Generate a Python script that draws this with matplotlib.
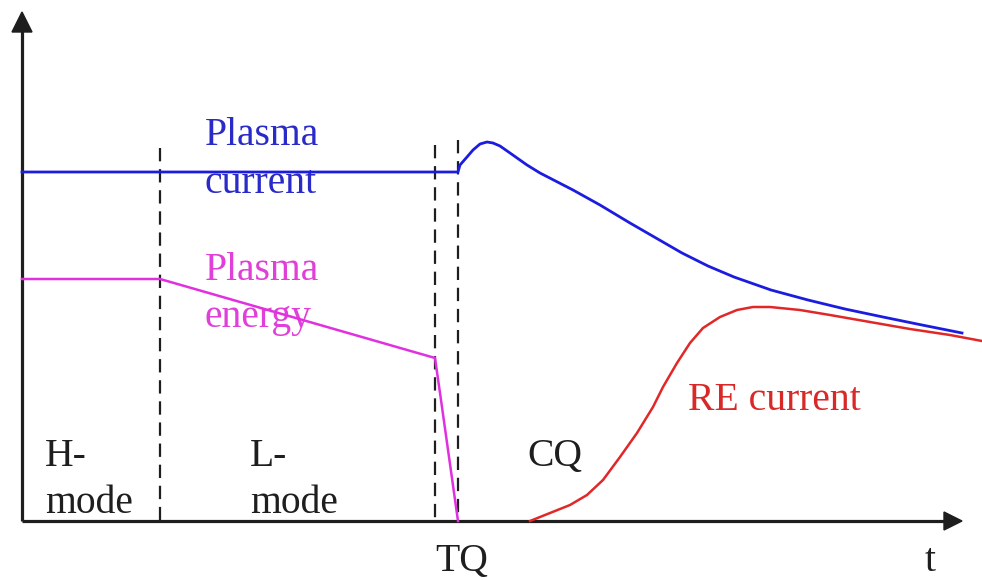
import matplotlib
matplotlib.use("Agg")
import matplotlib.pyplot as plt
from matplotlib.patches import Polygon

# Schematic data, read in picture pixel units (x to the right, y downward)
current_x = [22, 458, 460, 467, 473, 480, 487, 493, 500, 510, 527, 540, 573, 600, 630,
             656, 682, 708, 734, 771, 808, 845, 883, 922, 962]
current_y = [172, 172, 165, 157, 150, 144, 142, 143, 146, 153, 165, 173, 190, 205, 223,
             238, 253, 266, 277, 290, 300, 309, 317, 325, 333]

energy_x = [22, 160, 435, 437, 441, 458]
energy_y = [279, 279, 358, 372, 400, 521]

re_x = [530, 550, 570, 587, 603, 620, 637, 653, 663, 677, 690, 703, 720, 737, 753, 770,
        800, 830, 870, 910, 950, 982]
re_y = [521, 513, 505, 495, 480, 457, 433, 407, 387, 363, 343, 328, 317, 310, 307, 307,
        310, 315, 322, 329, 335, 341]

phase_x = [160, 435, 458]
phase_top = [148, 145, 140]

origin_x, origin_y = 22, 521
xaxis_end, yaxis_end = 962, 12

FS = 28.5
SERIF = ['Liberation Serif', 'DejaVu Serif']

fig = plt.figure(figsize=(9.82, 5.8), dpi=100)
ax = fig.add_axes([0, 0, 1, 1])
ax.set_xlim(0, 982)
ax.set_ylim(580, 0)
ax.axis('off')

# axes with arrows
ax.plot([origin_x, xaxis_end - 15], [origin_y, origin_y], color='#1e1e1e', lw=2.3,
        solid_capstyle='butt', zorder=3)
ax.plot([origin_x, origin_x], [origin_y, yaxis_end + 18], color='#1e1e1e', lw=2.3,
        solid_capstyle='butt', zorder=3)
ax.add_patch(Polygon([[xaxis_end, origin_y], [xaxis_end - 18, origin_y - 9],
                      [xaxis_end - 18, origin_y + 9]], closed=True, color='#1e1e1e', zorder=3))
ax.add_patch(Polygon([[origin_x, yaxis_end], [origin_x - 10, yaxis_end + 20],
                      [origin_x + 10, yaxis_end + 20]], closed=True, color='#1e1e1e', zorder=3))

# phase boundaries
for px, pt in zip(phase_x, phase_top):
    ax.plot([px, px], [pt, origin_y], color='#1e1e1e', lw=1.6, ls=(0, (6, 3.5)), zorder=2)

# curves
ax.plot(current_x, current_y, color='#1c1ce0', lw=2.0, zorder=4, solid_joinstyle='round')
ax.plot(energy_x, energy_y, color='#e030e0', lw=1.8, zorder=4, solid_joinstyle='round')
ax.plot(re_x, re_y, color='#e02828', lw=1.8, zorder=4, solid_joinstyle='round')

# labels
ax.text(205, 145, 'Plasma', color='#2a2ac8', fontsize=FS, family=SERIF, va='baseline', zorder=5)
ax.text(205, 193, 'current', color='#2a2ac8', fontsize=FS, family=SERIF, va='baseline', zorder=1)
ax.text(205, 280, 'Plasma', color='#e040d8', fontsize=FS, family=SERIF, va='baseline', zorder=5)
ax.text(205, 327, 'energy', color='#e040d8', fontsize=FS, family=SERIF, va='baseline', zorder=1)
ax.text(688, 410, 'RE current', color='#d82828', fontsize=FS, family=SERIF, va='baseline')
ax.text(45, 466, 'H-', color='#1e1e1e', fontsize=FS, family=SERIF, va='baseline')
ax.text(45, 513, 'mode', color='#1e1e1e', fontsize=FS, family=SERIF, va='baseline')
ax.text(250, 466, 'L-', color='#1e1e1e', fontsize=FS, family=SERIF, va='baseline')
ax.text(250, 513, 'mode', color='#1e1e1e', fontsize=FS, family=SERIF, va='baseline')
ax.text(527, 466, 'CQ', color='#1e1e1e', fontsize=FS, family=SERIF, va='baseline')
ax.text(462, 571, 'TQ', color='#1e1e1e', fontsize=FS, family=SERIF, va='baseline', ha='center')
ax.text(930, 571, 't', color='#1e1e1e', fontsize=FS, family=SERIF, va='baseline', ha='center')

fig.savefig('out.png', dpi=100, facecolor='white')
